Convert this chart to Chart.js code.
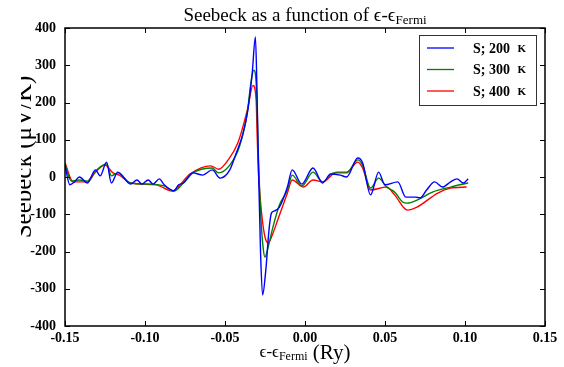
<!DOCTYPE html>
<html lang="en">
<head>
  <meta charset="UTF-8">
  <title>Seebeck as a function of energy</title>
  <style>
    html, body { margin: 0; padding: 0; background: #fff; }
    #wrap { width: 564px; height: 367px; }
  </style>
  <script src="https://cdn.jsdelivr.net/npm/chart.js"></script>
</head>
<body>
  <div id="wrap"><canvas id="seebeck"></canvas></div>

  <script>
    // Series labels and colours
    const seriesLabels = ['S; 200 K', 'S; 300 K', 'S; 400 K'];
    const seriesColors = ['#0000ff', '#008000', '#ff0000'];

    // Axis ticks
    const xTickValues = [-0.15, -0.10, -0.05, 0.00, 0.05, 0.10, 0.15];
    const yTickValues = [-400, -300, -200, -100, 0, 100, 200, 300, 400];

    // S at 200 K
    const x200 = [-0.150, -0.147, -0.144, -0.141, -0.136, -0.131, -0.128, -0.124, -0.121, -0.117,
      -0.109, -0.105, -0.102, -0.098, -0.095, -0.091, -0.088, -0.082, -0.079, -0.076,
      -0.070, -0.064, -0.058, -0.053, -0.047, -0.043, -0.039, -0.036, -0.033, -0.031,
      -0.030, -0.029, -0.0278, -0.0265, -0.0245, -0.0225, -0.021, -0.019, -0.016, -0.011,
      -0.008, -0.002, 0.005, 0.011, 0.016, 0.022, 0.026, 0.033, 0.036, 0.041,
      0.046, 0.050, 0.058, 0.063, 0.069, 0.072, 0.076, 0.081, 0.086, 0.091,
      0.095, 0.099, 0.102];
    const s200 = [32, -21, -13, 0, -16, 19, 3, 40, -16, 13,
      -19, -8, -19, -8, -19, -5, -21, -37, -21, -16,
      11, 5, 19, -3, 19, 64, 113, 172, 279, 376,
      230, 10, -200, -317, -250, -142, -97, -91, -81, -27,
      19, -19, 24, -16, 8, 5, 0, 51, 38, -48,
      13, -21, -13, -54, -54, -56, -35, -13, -27, -13,
      -5, -16, -5];

    // S at 300 K
    const x300 = [-0.150, -0.146, -0.141, -0.136, -0.131, -0.124, -0.121, -0.117, -0.109, -0.097,
      -0.088, -0.082, -0.076, -0.070, -0.058, -0.054, -0.047, -0.041, -0.036, -0.034,
      -0.032, -0.0305, -0.029, -0.0275, -0.026, -0.025, -0.0235, -0.020, -0.016, -0.011,
      -0.008, -0.002, 0.005, 0.011, 0.018, 0.026, 0.033, 0.036, 0.041, 0.046,
      0.051, 0.056, 0.061, 0.064, 0.070, 0.080, 0.091, 0.102];
    const s300 = [35, -11, -8, -11, 16, 35, 3, 11, -16, -19,
      -24, -38, -16, 11, 24, 11, 32, 81, 175, 247,
      287, 250, 40, -115, -196, -215, -196, -134, -75, -35,
      5, -24, 13, -13, 11, 11, 46, 32, -30, -3,
      -27, -40, -67, -70, -62, -40, -27, -16];

    // S at 400 K
    const x400 = [-0.150, -0.145, -0.136, -0.131, -0.125, -0.120, -0.116, -0.109, -0.093, -0.083,
      -0.072, -0.059, -0.054, -0.048, -0.042, -0.036, -0.0325, -0.0305, -0.030, -0.029,
      -0.027, -0.025, -0.023, -0.0205, -0.017, -0.011, -0.008, -0.001, 0.005, 0.011,
      0.020, 0.026, 0.033, 0.036, 0.041, 0.051, 0.056, 0.064, 0.070, 0.083,
      0.091, 0.101];
    const s400 = [38, -13, -13, 13, 32, 11, 5, -16, -21, -38,
      8, 30, 21, 46, 91, 180, 246, 205, 126, 5,
      -102, -161, -177, -156, -115, -43, -8, -27, -8, -13,
      13, 13, 40, 24, -35, -27, -48, -89, -81, -43,
      -30, -27];

    const seriesX = [x200, x300, x400];
    const seriesY = [s200, s300, s400];

    const serif = "'Liberation Serif', 'DejaVu Serif', serif";

    // frame, inward ticks, legend, title and axis labels in the matplotlib look
    const decorations = {
      id: 'decorations',
      afterDraw(chart) {
        const ctx = chart.ctx;
        const a = chart.chartArea;
        const xs = chart.scales.x;
        const ys = chart.scales.y;
        ctx.save();
        ctx.strokeStyle = '#000';
        ctx.lineWidth = 1;
        ctx.beginPath();
        xTickValues.forEach(v => {
          const px = Math.round(xs.getPixelForValue(v)) + 0.5;
          ctx.moveTo(px, a.bottom); ctx.lineTo(px, a.bottom - 5);
          ctx.moveTo(px, a.top); ctx.lineTo(px, a.top + 5);
        });
        yTickValues.forEach(v => {
          const py = Math.round(ys.getPixelForValue(v)) + 0.5;
          ctx.moveTo(a.left, py); ctx.lineTo(a.left + 5, py);
          ctx.moveTo(a.right, py); ctx.lineTo(a.right - 5, py);
        });
        ctx.stroke();
        ctx.lineWidth = 1.5;
        ctx.strokeRect(a.left, a.top, a.right - a.left, a.bottom - a.top);

        // legend box
        const lx = 419, ly = 35, lw = 117, lh = 70;
        ctx.fillStyle = '#fff';
        ctx.fillRect(lx, ly, lw, lh);
        ctx.lineWidth = 1;
        ctx.strokeStyle = '#333';
        ctx.strokeRect(lx + 0.5, ly + 0.5, lw, lh);
        chart.data.datasets.forEach((ds, i) => {
          const yy = ly + 13 + i * 21.5;
          ctx.strokeStyle = ds.borderColor;
          ctx.lineWidth = 1.3;
          ctx.beginPath();
          ctx.moveTo(lx + 8, yy); ctx.lineTo(lx + 35, yy);
          ctx.stroke();
          ctx.fillStyle = '#000';
          ctx.font = 'bold 14px ' + serif;
          ctx.textBaseline = 'middle';
          ctx.textAlign = 'left';
          const parts = ds.label.split(' ');
          const head = parts.slice(0, 2).join(' ');
          ctx.fillText(head, lx + 54, yy + 1);
          const w = ctx.measureText(head + ' ').width;
          ctx.font = 'bold 11px ' + serif;
          ctx.fillText(parts[2], lx + 54 + w + 4, yy + 1);
        });

        // title with subscript
        const cx = (a.left + a.right) / 2;
        ctx.fillStyle = '#000';
        ctx.textBaseline = 'alphabetic';
        ctx.textAlign = 'left';
        const t1 = 'Seebeck as a function of \u03f5-\u03f5';
        ctx.font = '19px ' + serif;
        const w1 = ctx.measureText(t1).width;
        ctx.font = '13px ' + serif;
        const w2 = ctx.measureText('Fermi').width;
        let tx = cx - (w1 + w2) / 2;
        ctx.font = '19px ' + serif;
        ctx.fillText(t1, tx, 21);
        ctx.font = '13px ' + serif;
        ctx.fillText('Fermi', tx + w1, 24);

        // x axis label
        const e1 = '\u03f5-\u03f5';
        ctx.font = '17px ' + serif;
        const we1 = ctx.measureText(e1).width;
        ctx.font = '12px ' + serif;
        const we2 = ctx.measureText('Fermi').width;
        ctx.font = '21px ' + serif;
        const we3 = ctx.measureText(' (Ry)').width;
        tx = cx - (we1 + we2 + we3) / 2;
        ctx.font = '17px ' + serif;
        ctx.fillText(e1, tx, 357);
        ctx.font = '12px ' + serif;
        ctx.fillText('Fermi', tx + we1, 360);
        ctx.font = '21px ' + serif;
        ctx.fillText(' (Ry)', tx + we1 + we2, 359);

        // y axis label, cut on its left side as in the figure
        ctx.save();
        ctx.beginPath();
        ctx.rect(21, 0, 40, chart.height);
        ctx.clip();
        ctx.translate(31, (a.top + a.bottom) / 2 - 20);
        ctx.rotate(-Math.PI / 2);
        ctx.font = '25px ' + serif;
        ctx.textAlign = 'center';
        ctx.fillText('Seebeck (\u03bcV/K)', 0, 0);
        ctx.restore();
        ctx.restore();
      }
    };

    const datasets = seriesLabels.map((label, i) => ({
      label: label,
      data: seriesX[i].map((x, j) => ({ x: x, y: seriesY[i][j] })),
      borderColor: seriesColors[i],
      borderWidth: 1.4,
      pointRadius: 0,
      fill: false,
      cubicInterpolationMode: 'monotone'
    }));

    new Chart(document.getElementById('seebeck'), {
      type: 'line',
      data: { datasets: datasets },
      options: {
        responsive: true,
        maintainAspectRatio: false,
        animation: false,
        layout: { padding: { left: 0, right: 19, top: 28, bottom: 0 } },
        plugins: { legend: { display: false }, title: { display: false }, tooltip: { enabled: false } },
        scales: {
          x: {
            type: 'linear',
            min: -0.15,
            max: 0.15,
            afterBuildTicks: s => { s.ticks = xTickValues.map(v => ({ value: v })); },
            afterFit: s => { s.height = 41; },
            grid: { display: false, drawTicks: false },
            border: { display: false },
            ticks: {
              padding: 4,
              color: '#000',
              font: { family: serif, size: 14, weight: 'bold' },
              maxRotation: 0,
              callback: v => v.toFixed(2)
            }
          },
          y: {
            min: -400,
            max: 400,
            afterBuildTicks: s => { s.ticks = yTickValues.map(v => ({ value: v })); },
            afterFit: s => { s.width = 65; },
            grid: { display: false, drawTicks: false },
            border: { display: false },
            ticks: {
              padding: 9,
              color: '#000',
              font: { family: serif, size: 14, weight: 'bold' }
            }
          }
        }
      },
      plugins: [decorations]
    });
  </script>
</body>
</html>
